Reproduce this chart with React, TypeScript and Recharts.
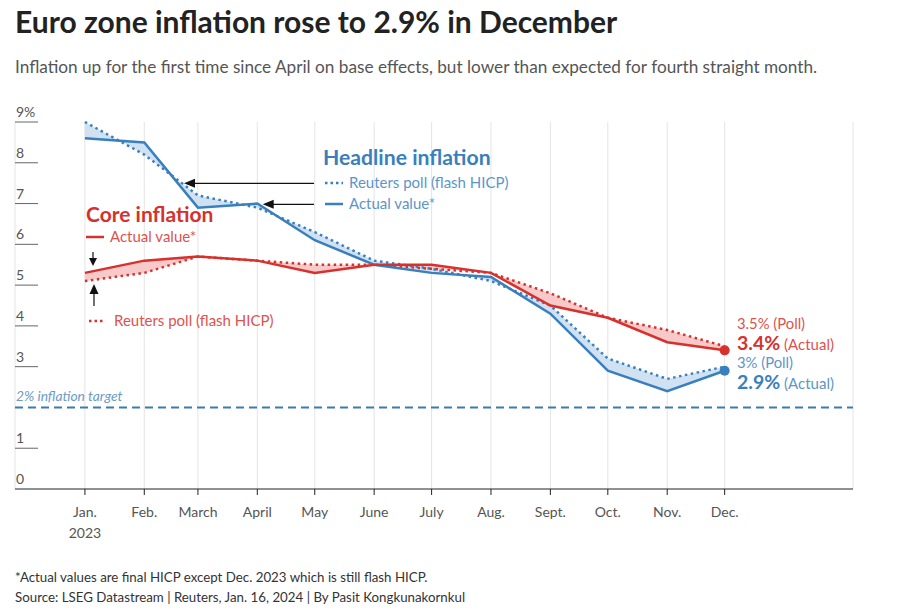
import React from "react";
import {
  ComposedChart,
  Line,
  Area,
  XAxis,
  YAxis,
  CartesianGrid,
  ReferenceLine,
} from "recharts";

// day offsets from Jan. 1 2023 so the months sit on a time scale
const monthDays = [0, 31, 59, 90, 120, 151, 181, 212, 243, 273, 304, 334];
const monthLabels = ["Jan.", "Feb.", "March", "April", "May", "June", "July", "Aug.", "Sept.", "Oct.", "Nov.", "Dec."];
const headlineActual = [8.6, 8.5, 6.9, 7.0, 6.1, 5.5, 5.3, 5.2, 4.3, 2.9, 2.4, 2.9];
const headlinePoll = [9.0, 8.2, 7.2, 6.9, 6.3, 5.6, 5.4, 5.1, 4.5, 3.2, 2.7, 3.0];
const coreActual = [5.3, 5.6, 5.7, 5.6, 5.3, 5.5, 5.5, 5.3, 4.5, 4.2, 3.6, 3.4];
const corePoll = [5.1, 5.3, 5.7, 5.6, 5.5, 5.5, 5.4, 5.3, 4.8, 4.2, 3.9, 3.5];
const yTicks = [0, 1, 3, 4, 5, 6, 7, 8, 9];
const target = 2;

const data = monthDays.map((d, i) => ({
  day: d,
  hActual: headlineActual[i],
  hPoll: headlinePoll[i],
  cActual: coreActual[i],
  cPoll: corePoll[i],
}));

const BLUE = "#3a7fbd";
const BLUE_LIGHT = "#5b96c9";
const BLUE_FILL = "#d0e2f2";
const RED = "#d6312d";
const RED_LIGHT = "#e0524d";
const RED_FILL = "#f7c9c8";
const FONT = "Lato, 'Noto Sans', sans-serif";

const W = 895;
const H = 597;
const PLOT_LEFT = 7;
const PLOT_BOTTOM = 481;

const YTick = (props: any) => {
  const { y, payload } = props;
  const v = payload.value;
  return (
    <g>
      <text x={PLOT_LEFT + 1} y={y - 5} fontSize={14} fill="#555" fontFamily={FONT}>
        {v === 9 ? "9%" : String(v)}
      </text>
      {v !== 0 && <line x1={PLOT_LEFT} x2={PLOT_LEFT + 23} y1={y} y2={y} stroke="#666" strokeWidth={1} />}
    </g>
  );
};

const XTick = (props: any) => {
  const { x, payload, index } = props;
  return (
    <g>
      <text x={x} y={PLOT_BOTTOM + 28} textAnchor="middle" fontSize={14} fill="#555" fontFamily={FONT}>
        {monthLabels[index] ?? payload.value}
      </text>
      {index === 0 && (
        <text x={x} y={PLOT_BOTTOM + 49} textAnchor="middle" fontSize={14} fill="#555" fontFamily={FONT}>
          2023
        </text>
      )}
    </g>
  );
};

const lastDot = (color: string) => (p: any) =>
  p.index === data.length - 1 ? (
    <circle key={p.key} cx={p.cx} cy={p.cy} r={5} fill={color} />
  ) : (
    <g key={p.key} />
  );

const arrowLeft = (x1: number, x2: number, y: number) => (
  <g>
    <line x1={x1} x2={x2 + 8} y1={y} y2={y} stroke="#111" strokeWidth={1.2} />
    <path d={`M${x2},${y} L${x2 + 11},${y - 4.5} L${x2 + 11},${y + 4.5} Z`} fill="#111" />
  </g>
);

export default function App() {
  return (
    <div style={{ position: "relative", width: W, height: H, fontFamily: FONT }}>
      <ComposedChart
        width={W}
        height={H}
        data={data}
        margin={{ top: 114, right: 50, left: PLOT_LEFT - 1, bottom: 86 }}
      >
        <CartesianGrid horizontal={false} stroke="#e4e4e4" />
        <XAxis
          dataKey="day"
          type="number"
          domain={[-36.5, 401]}
          ticks={monthDays}
          height={30}
          stroke="#222"
          tickSize={6}
          tick={<XTick />}
          interval={0}
        />
        <YAxis
          type="number"
          domain={[0, 9]}
          ticks={yTicks}
          width={1}
          axisLine={false}
          tickLine={false}
          tick={<YTick />}
          interval={0}
        />
        <ReferenceLine y={target} stroke="#3d7bab" strokeWidth={2} strokeDasharray="8 5" />
        <Area
          type="linear"
          dataKey={(d: any) => [d.hPoll, d.hActual]}
          fill={BLUE_FILL}
          fillOpacity={1}
          stroke="none"
          isAnimationActive={false}
        />
        <Area
          type="linear"
          dataKey={(d: any) => [d.cPoll, d.cActual]}
          fill={RED_FILL}
          fillOpacity={1}
          stroke="none"
          isAnimationActive={false}
        />
        <Line type="linear" dataKey="hPoll" stroke={BLUE} strokeWidth={2.5} strokeDasharray="2.5 3.5" dot={false} isAnimationActive={false} />
        <Line type="linear" dataKey="cPoll" stroke={RED} strokeWidth={2.5} strokeDasharray="2.5 3.5" dot={false} isAnimationActive={false} />
        <Line type="linear" dataKey="hActual" stroke={BLUE} strokeWidth={2.5} dot={lastDot(BLUE)} isAnimationActive={false} />
        <Line type="linear" dataKey="cActual" stroke={RED} strokeWidth={2.5} dot={lastDot(RED)} isAnimationActive={false} />
      </ComposedChart>

      {/* overlay covers the whole page, so it starts under the body margin */}
      <svg
        width={W + 16}
        height={H + 16}
        style={{ position: "absolute", left: -8, top: -8, pointerEvents: "none" }}
        fontFamily={FONT}
      >
        <g transform="translate(8,8)">
          <text x={7} y={25} fontSize={30} fontWeight={700} fill="#222">
            Euro zone inflation rose to 2.9% in December
          </text>
          <text x={7} y={65} fontSize={17.2} fill="#555">
            Inflation up for the first time since April on base effects, but lower than expected for fourth straight month.
          </text>

          {/* headline legend */}
          <text x={315} y={157} fontSize={21.2} fontWeight={700} fill={BLUE}>
            Headline inflation
          </text>
          <line x1={317} x2={335} y1={175} y2={175} stroke={BLUE} strokeWidth={2.5} strokeDasharray="2.5 3" />
          <text x={341} y={180} fontSize={15} fill={BLUE_LIGHT}>
            Reuters poll (flash HICP)
          </text>
          <line x1={317} x2={335} y1={196} y2={196} stroke={BLUE} strokeWidth={2.5} />
          <text x={341} y={201} fontSize={15} fill={BLUE_LIGHT}>
            Actual value*
          </text>
          {arrowLeft(306, 176, 175.3)}
          {arrowLeft(306, 254.7, 196.3)}

          {/* core legend */}
          <text x={78} y={214} fontSize={21} fontWeight={700} fill={RED}>
            Core inflation
          </text>
          <line x1={78} x2={96} y1={229} y2={229} stroke={RED} strokeWidth={2.5} />
          <text x={102} y={234} fontSize={15} fill={RED_LIGHT}>
            Actual value*
          </text>
          <line x1={81} x2={97} y1={313} y2={313} stroke={RED} strokeWidth={2.5} strokeDasharray="2.5 3" />
          <text x={106} y={318} fontSize={15} fill={RED_LIGHT}>
            Reuters poll (flash HICP)
          </text>
          <line x1={85} x2={85} y1={244} y2={252} stroke="#111" strokeWidth={1.2} />
          <path d="M85,258 L81,250 L89,250 Z" fill="#111" />
          <line x1={86} x2={86} y1={298} y2={284} stroke="#111" strokeWidth={1.2} />
          <path d="M86,276 L81.5,286 L90.5,286 Z" fill="#111" />

          {/* target label */}
          <text x={8} y={393} fontSize={13.8} fontStyle="italic" fill="#6b9bc6">
            2% inflation target
          </text>

          {/* end labels */}
          <text x={729} y={321} fontSize={14.8} fill={RED_LIGHT}>
            3.5% (Poll)
          </text>
          <text x={729} y={342} fontSize={15} fill={RED_LIGHT}>
            <tspan fontSize={19.5} fontWeight={700} fill={RED}>3.4%</tspan> (Actual)
          </text>
          <text x={729} y={360} fontSize={14.8} fill={BLUE_LIGHT}>
            3% (Poll)
          </text>
          <text x={729} y={381} fontSize={15} fill={BLUE_LIGHT}>
            <tspan fontSize={19.5} fontWeight={700} fill={BLUE}>2.9%</tspan> (Actual)
          </text>

          {/* footer */}
          <text x={7} y={574} fontSize={13.3} fill="#333">
            *Actual values are final HICP except Dec. 2023 which is still flash HICP.
          </text>
          <text x={7} y={594} fontSize={13.3} fill="#333">
            Source: LSEG Datastream | Reuters, Jan. 16, 2024 | By Pasit Kongkunakornkul
          </text>
        </g>
      </svg>
    </div>
  );
}
